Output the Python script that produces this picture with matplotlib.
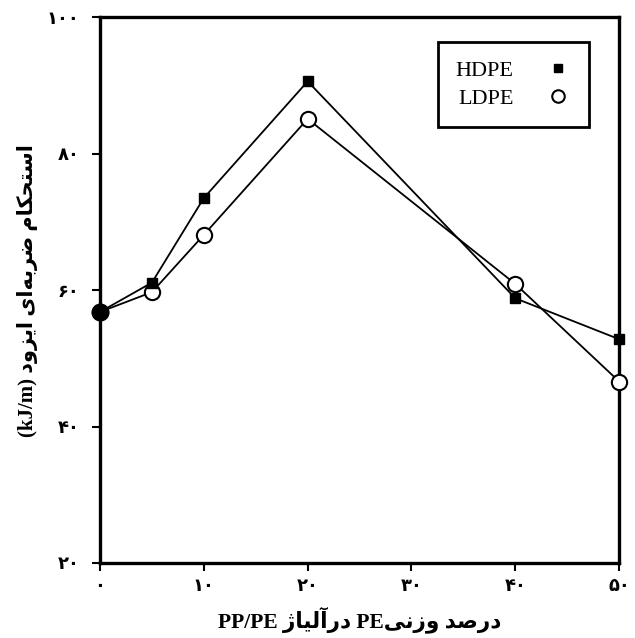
import matplotlib
matplotlib.use("Agg")
from matplotlib import pyplot as plt

# درصد وزنی PE
pe_percent = [0, 5, 10, 20, 40, 50]
hdpe = [56.8, 61.1, 73.5, 90.6, 58.8, 52.8]
ldpe = [56.8, 59.7, 68.1, 85.1, 60.9, 46.6]

x_ticks = [0, 10, 20, 30, 40, 50]
y_ticks = [20, 40, 60, 80, 100]
fa_digits = "۰۱۲۳۴۵۶۷۸۹"

# matplotlib does no arabic shaping, so use presentation forms
FORMS = {
    'ا': ('\uFE8D', '\uFE8E'),
    'آ': ('\uFE81', '\uFE82'),
    'د': ('\uFEA9', '\uFEAA'),
    'ر': ('\uFEAD', '\uFEAE'),
    'ز': ('\uFEAF', '\uFEB0'),
    'ژ': ('\uFB8A', '\uFB8B'),
    'و': ('\uFEED', '\uFEEE'),
    'ب': ('\uFE8F', '\uFE90', '\uFE91', '\uFE92'),
    'ت': ('\uFE95', '\uFE96', '\uFE97', '\uFE98'),
    'ح': ('\uFEA1', '\uFEA2', '\uFEA3', '\uFEA4'),
    'س': ('\uFEB1', '\uFEB2', '\uFEB3', '\uFEB4'),
    'ص': ('\uFEB9', '\uFEBA', '\uFEBB', '\uFEBC'),
    'ض': ('\uFEBD', '\uFEBE', '\uFEBF', '\uFEC0'),
    'ک': ('\uFB8E', '\uFB8F', '\uFB90', '\uFB91'),
    'ل': ('\uFEDD', '\uFEDE', '\uFEDF', '\uFEE0'),
    'م': ('\uFEE1', '\uFEE2', '\uFEE3', '\uFEE4'),
    'ن': ('\uFEE5', '\uFEE6', '\uFEE7', '\uFEE8'),
    'ه': ('\uFEE9', '\uFEEA', '\uFEEB', '\uFEEC'),
    'ی': ('\uFBFC', '\uFBFD', '\uFBFE', '\uFBFF'),
}


def shape(word):
    out = []
    for i, c in enumerate(word):
        if c not in FORMS:
            out.append(c)
            continue
        f = FORMS[c]
        prev = word[i-1] if i > 0 else ''
        nxt = word[i+1] if i+1 < len(word) else ''
        jp = prev in FORMS and len(FORMS[prev]) == 4
        jn = len(f) == 4 and nxt in FORMS
        if jp and jn:
            out.append(f[3])
        elif jp:
            out.append(f[1])
        elif jn:
            out.append(f[2])
        else:
            out.append(f[0])
    return ''.join(out).replace('\u200c', '')


def fa(text):
    s = shape(text)
    runs = []
    for c in s:
        rtl = not (c.isascii() and c != ' ')
        if runs and runs[-1][0] == rtl:
            runs[-1][1].append(c)
        else:
            runs.append((rtl, [c]))
    return ''.join(''.join(reversed(r)) if rtl else ''.join(r)
                   for rtl, r in reversed(runs))


def fa_num(n):
    return ''.join(fa_digits[int(d)] for d in str(n))


fam = ['Liberation Serif', 'DejaVu Sans']

fig = plt.figure(figsize=(6.35, 6.38), dpi=100)
ax = fig.add_axes([0.1575, 0.1176, 0.8175, 0.8554])

l_ldpe, = ax.plot(pe_percent, ldpe, color="black", lw=1.3, marker="o",
                  ms=11, mfc="white", mec="black", mew=1.5, zorder=3)
l_hdpe, = ax.plot(pe_percent, hdpe, color="black", lw=1.3, marker="s",
                  ms=7, mfc="black", mec="black", zorder=4)
# at 0 % both points sit on top of each other, drawn as one solid dot
ax.plot(pe_percent[:1], hdpe[:1], marker="o", ms=12, color="black",
        ls="none", zorder=5)

ax.set_xlim(0, 50)
ax.set_ylim(20, 100)
ax.set_xticks(x_ticks)
ax.set_yticks(y_ticks)
ax.set_xticklabels([fa_num(v) for v in x_ticks], family=fam,
                   fontweight="bold", fontsize=13)
ax.set_yticklabels([fa_num(v) for v in y_ticks], family=fam,
                   fontweight="bold", fontsize=13)
ax.tick_params(axis="y", direction="out", length=6, width=1.5, pad=9)
ax.tick_params(axis="x", direction="out", length=6, width=1.5, pad=5)
for sp in ax.spines.values():
    sp.set_linewidth(2.4)
for line in ax.lines:
    line.set_clip_on(False)

ax.set_xlabel(fa("درصد وزنیPE درآلیاژ PP/PE"), family=fam,
              fontweight="bold", fontsize=15.5, labelpad=8)
ax.set_ylabel(fa("استحکام ضربه‌ای ایزود (kJ/m)"), family=fam,
              fontweight="bold", fontsize=15, labelpad=6)

leg = ax.legend([l_hdpe, l_ldpe], ["HDPE", "LDPE"],
                loc="upper right", bbox_to_anchor=(0.942, 0.954),
                borderaxespad=0, markerfirst=False, fancybox=False,
                framealpha=1, edgecolor="black", handlelength=1.2,
                prop={"family": "Liberation Serif", "size": 16},
                borderpad=0.8, labelspacing=0.35, handletextpad=1.4)
leg.get_frame().set_linewidth(2.0)
# only the marker in the legend, no line
for h in leg.legend_handles:
    h.set_linestyle("none")
leg.legend_handles[0].set_markersize(6)
leg.legend_handles[1].set_markersize(9)

fig.savefig("out.png", dpi=100)
